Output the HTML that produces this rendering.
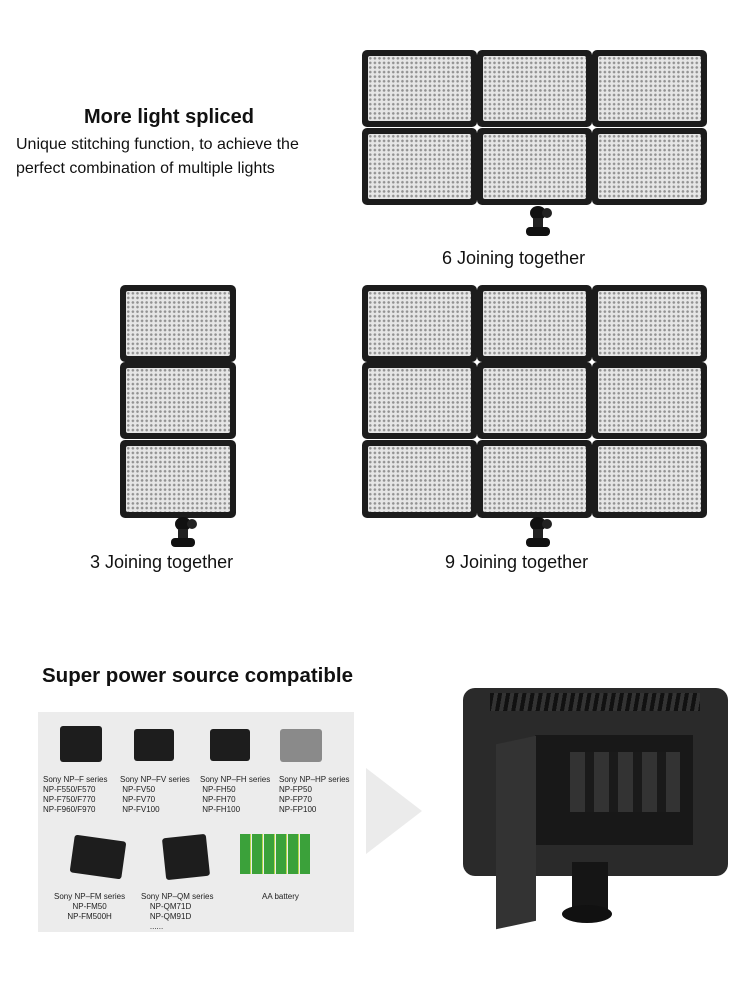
<!DOCTYPE html>
<html><head><style>
body{margin:0;width:742px;height:1000px;background:#fff;position:relative;overflow:hidden;font-family:"Liberation Sans",Arial,sans-serif;color:#111}
.a{position:absolute}
.p{position:absolute;box-sizing:border-box;width:115px;height:77px;background:#1c1c1c;border-radius:5px;padding:6px}
.p i{display:block;width:100%;height:100%;background-color:#e6e6e6;background-image:radial-gradient(circle,#929292 1.1px,transparent 1.5px);background-size:4.6px 4.6px;border-radius:2px}
.t{position:absolute;font-size:18px;white-space:nowrap}
.m{position:absolute;width:30px;height:36px}
.m b{position:absolute;left:6px;top:2px;width:16px;height:14px;background:#111;border-radius:50%}
.m em{position:absolute;left:18px;top:4px;width:10px;height:10px;background:#222;border-radius:50%}
.m s{position:absolute;left:9px;top:14px;width:10px;height:10px;background:#222}
.m u{position:absolute;left:2px;top:23px;width:24px;height:9px;background:#111;border-radius:4px}
.bt{position:absolute;font-size:8px;line-height:10px;color:#222;white-space:nowrap}
.bat{position:absolute;background:#1d1d1d;border-radius:3px}
</style></head><body>

<div class="t" style="left:84px;top:106px;font-weight:bold;font-size:20px">More light spliced</div>
<div class="t" style="left:16px;top:136px;font-size:16px">Unique stitching function, to achieve the</div>
<div class="t" style="left:16px;top:160px;font-size:16px">perfect combination of multiple lights</div>

<!-- 6 grid -->
<div class="p" style="left:362px;top:50px"><i></i></div>
<div class="p" style="left:477px;top:50px"><i></i></div>
<div class="p" style="left:592px;top:50px"><i></i></div>
<div class="p" style="left:362px;top:128px"><i></i></div>
<div class="p" style="left:477px;top:128px"><i></i></div>
<div class="p" style="left:592px;top:128px"><i></i></div>
<div class="m" style="left:524px;top:204px"><b></b><em></em><s></s><u></u></div>
<div class="t" style="left:442px;top:248px">6 Joining together</div>

<!-- 3 stack -->
<div class="p" style="left:120px;top:285px;width:116px"><i></i></div>
<div class="p" style="left:120px;top:362px;width:116px"><i></i></div>
<div class="p" style="left:120px;top:440px;width:116px;height:78px"><i></i></div>
<div class="m" style="left:169px;top:515px"><b></b><em></em><s></s><u></u></div>
<div class="t" style="left:90px;top:552px">3 Joining together</div>

<!-- 9 grid -->
<div class="p" style="left:362px;top:285px"><i></i></div>
<div class="p" style="left:477px;top:285px"><i></i></div>
<div class="p" style="left:592px;top:285px"><i></i></div>
<div class="p" style="left:362px;top:362px"><i></i></div>
<div class="p" style="left:477px;top:362px"><i></i></div>
<div class="p" style="left:592px;top:362px"><i></i></div>
<div class="p" style="left:362px;top:440px;height:78px"><i></i></div>
<div class="p" style="left:477px;top:440px;height:78px"><i></i></div>
<div class="p" style="left:592px;top:440px;height:78px"><i></i></div>
<div class="m" style="left:524px;top:515px"><b></b><em></em><s></s><u></u></div>
<div class="t" style="left:445px;top:552px">9 Joining together</div>

<div class="t" style="left:42px;top:664px;font-weight:bold;font-size:20.5px">Super power source compatible</div>

<!-- battery panel -->
<div class="a" style="left:38px;top:712px;width:316px;height:220px;background:#ececec"></div>
<div class="bat" style="left:60px;top:726px;width:42px;height:36px"></div>
<div class="bat" style="left:134px;top:729px;width:40px;height:32px"></div>
<div class="bat" style="left:210px;top:729px;width:40px;height:32px"></div>
<div class="bat" style="left:280px;top:729px;width:42px;height:33px;background:#8a8a8a"></div>
<div class="bt" style="left:43px;top:775px">Sony NP–F series<br>NP-F550/F570<br>NP-F750/F770<br>NP-F960/F970</div>
<div class="bt" style="left:120px;top:775px">Sony NP–FV series<br>&nbsp;NP-FV50<br>&nbsp;NP-FV70<br>&nbsp;NP-FV100</div>
<div class="bt" style="left:200px;top:775px">Sony NP–FH series<br>&nbsp;NP-FH50<br>&nbsp;NP-FH70<br>&nbsp;NP-FH100</div>
<div class="bt" style="left:279px;top:775px">Sony NP–HP series<br>NP-FP50<br>NP-FP70<br>NP-FP100</div>
<div class="bat" style="left:72px;top:838px;width:52px;height:38px;transform:rotate(8deg)"></div>
<div class="bat" style="left:164px;top:836px;width:44px;height:42px;transform:rotate(-6deg)"></div>
<div class="a" style="left:240px;top:834px;width:70px;height:40px;background:repeating-linear-gradient(90deg,#3ba13a 0 10px,#b6d84a 10px 11px,#ececec 11px 12px)"></div>
<div class="bt" style="left:54px;top:892px;text-align:center">Sony NP–FM series<br>NP-FM50<br>NP-FM500H</div>
<div class="bt" style="left:141px;top:892px">Sony NP–QM series<br>&nbsp;&nbsp;&nbsp;&nbsp;NP-QM71D<br>&nbsp;&nbsp;&nbsp;&nbsp;NP-QM91D<br>&nbsp;&nbsp;&nbsp;&nbsp;......</div>
<div class="bt" style="left:262px;top:892px">AA battery</div>

<!-- arrow -->
<div class="a" style="left:366px;top:768px;width:0;height:0;border-top:43px solid transparent;border-bottom:43px solid transparent;border-left:56px solid #ebebeb"></div>

<!-- light -->
<div class="a" style="left:463px;top:688px;width:265px;height:188px;background:#2a2a2a;border-radius:12px"></div>
<div class="a" style="left:490px;top:693px;width:210px;height:18px;background:repeating-linear-gradient(100deg,#111 0 4px,#333 4px 8px)"></div>
<div class="a" style="left:535px;top:735px;width:158px;height:110px;background:#181818"></div>
<div class="a" style="left:570px;top:752px;width:110px;height:60px;background:repeating-linear-gradient(90deg,#333 0 15px,#1a1a1a 15px 24px)"></div>
<div class="a" style="left:496px;top:740px;width:40px;height:185px;background:#333;transform:skewY(-12deg)"></div>
<div class="a" style="left:572px;top:862px;width:36px;height:50px;background:#151515"></div>
<div class="a" style="left:562px;top:905px;width:50px;height:18px;background:#111;border-radius:50%"></div>

</body></html>
